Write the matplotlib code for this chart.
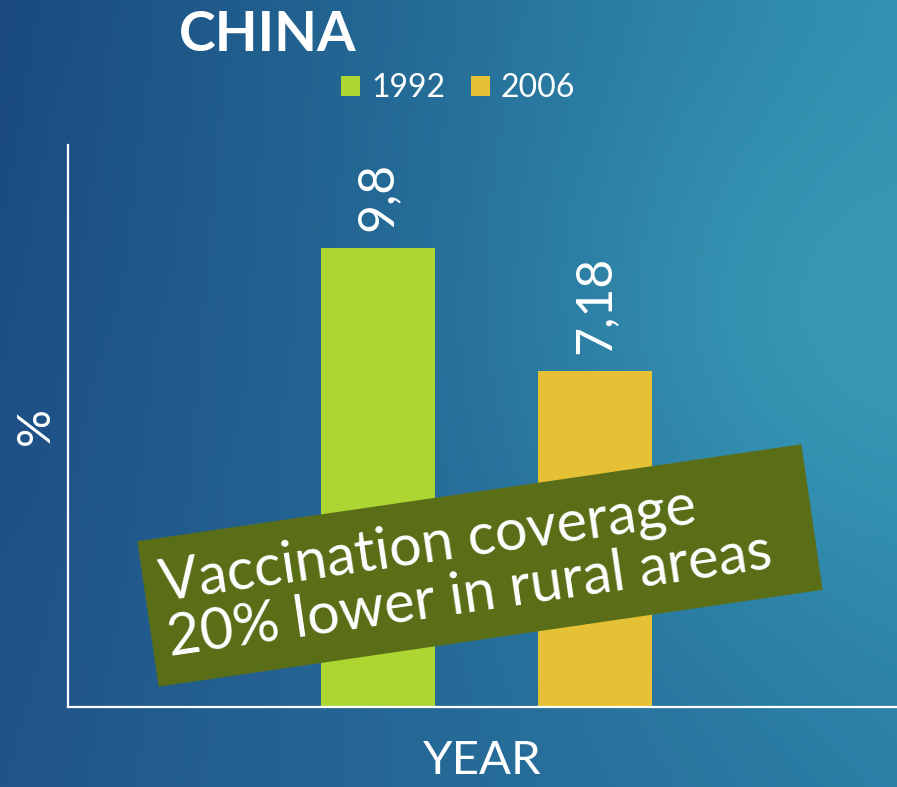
import numpy as np
import matplotlib
matplotlib.use("Agg")
import matplotlib.pyplot as plt
from matplotlib.patches import Rectangle, Patch
from matplotlib.transforms import IdentityTransform
from matplotlib.colors import to_rgb

# ---- data ----
categories = ["1992", "2006"]
values = [9.8, 7.18]
value_labels = ["9,8", "7,18"]
bar_colors = ["#add633", "#e6c135"]
title = "CHINA"
note = "Vaccination coverage\n20% lower in rural areas"
xlabel = "YEAR"
ylabel = "%"

W, H = 897, 787
fig = plt.figure(figsize=(W / 100, H / 100), dpi=100)

# ---- background gradient ----
bg = fig.add_axes([0, 0, 1, 1], zorder=-10)
ny, nx = 200, 230
yy, xx = np.mgrid[0:1:ny * 1j, 0:1:nx * 1j]
tl, tr = np.array(to_rgb("#1a4a7f")), np.array(to_rgb("#3090b0"))
bl, br = np.array(to_rgb("#21558a")), np.array(to_rgb("#2b7ea5"))
img = ((1 - xx)[..., None] * (1 - yy)[..., None] * tl + xx[..., None] * (1 - yy)[..., None] * tr
       + (1 - xx)[..., None] * yy[..., None] * bl + xx[..., None] * yy[..., None] * br)
hl = np.exp(-(((xx - 1.0) / 0.35) ** 2 + ((yy - 0.4) / 0.35) ** 2))
img = img + hl[..., None] * (np.array(to_rgb("#3a9db8")) - img) * 0.8
bg.imshow(np.clip(img, 0, 1), extent=[0, 1, 0, 1], aspect="auto", origin="upper")
bg.set_axis_off()

FONT = "Lato"
W_TXT = "normal"

# ---- main axes ----
ax = fig.add_axes([68 / W, 80 / H, (W - 68) / W, (707 - 145) / H])
ax.set_facecolor("none")
x = np.arange(len(categories))
bars = ax.bar(x, values, width=0.525, color=bar_colors, zorder=2)
ax.set_xlim(-1.428, 2.392)
ax.set_ylim(0, 12)
for b, lab in zip(bars, value_labels):
    ax.annotate(lab, (b.get_x() + b.get_width() / 2, b.get_height()),
                xytext=(0, 12), textcoords="offset points", rotation=90,
                ha="center", va="bottom", color="white", fontsize=36,
                family=FONT, weight=W_TXT)
for s in ["top", "right"]:
    ax.spines[s].set_visible(False)
for s in ["left", "bottom"]:
    ax.spines[s].set_color("white")
    ax.spines[s].set_linewidth(1.6)
ax.set_xticks([])
ax.set_yticks([])
ax.set_xlabel(xlabel, color="white", fontsize=34, family=FONT, weight=W_TXT, labelpad=24)
ax.set_ylabel(ylabel, color="white", fontsize=34, family=FONT, weight=W_TXT, labelpad=8)

# ---- legend ----
handles = [Patch(facecolor=c, edgecolor="none") for c in bar_colors]
leg = fig.legend(handles, categories, loc="center", bbox_to_anchor=(458 / W, 1 - 88 / H),
                 ncol=2, frameon=False, handlelength=0.6, handleheight=0.6,
                 handletextpad=0.35, columnspacing=0.8, borderpad=0, borderaxespad=0,
                 prop={"family": FONT, "weight": W_TXT, "size": 23})
for t in leg.get_texts():
    t.set_color("white")

# ---- title ----
fig.text(268 / W, 1 - 35 / H, title, ha="center", va="center", color="white",
         fontsize=40, family=FONT, weight="bold")

# ---- rotated note box ----
angle = 8.3
box = Rectangle((480 - 671 / 2, (H - 565.5) - 147 / 2), 671, 147, angle=angle,
                rotation_point="center", transform=IdentityTransform(),
                facecolor="#5a6e18", edgecolor="none", zorder=5)
fig.add_artist(box)
fig.text(466, H - 568, note, transform=IdentityTransform(), rotation=angle,
         rotation_mode="anchor", ha="center", va="center", multialignment="left",
         color="white", fontsize=41.5, family=FONT, weight=W_TXT, linespacing=1.05,
         zorder=6)

fig.savefig("out.png", dpi=100)
